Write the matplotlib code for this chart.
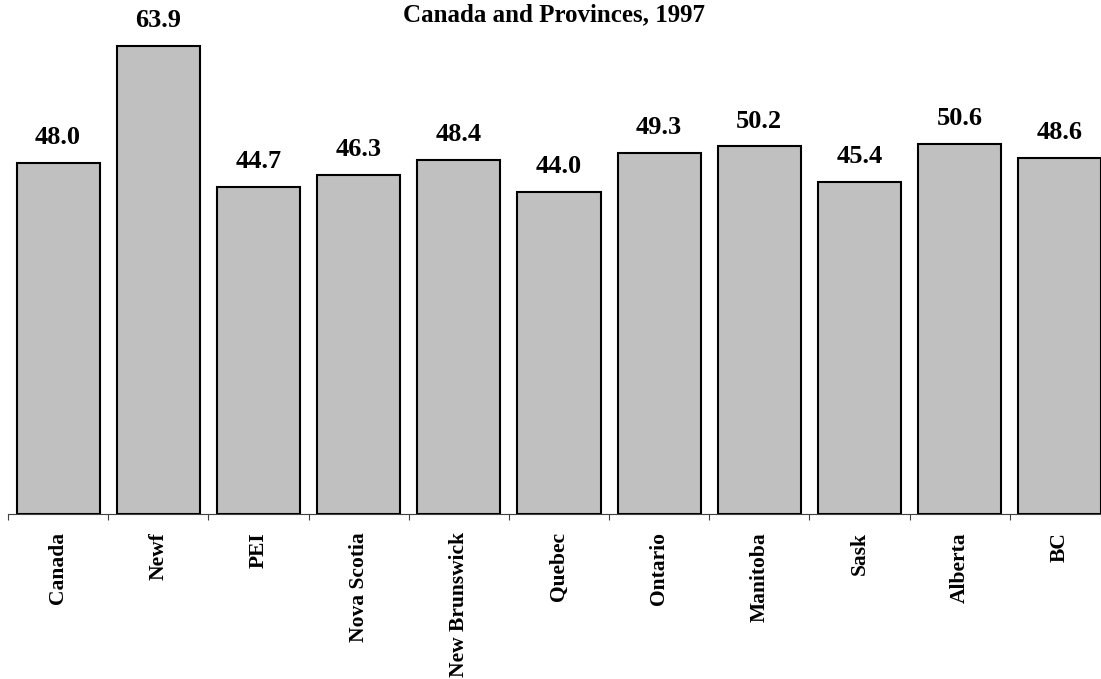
import matplotlib.pyplot as plt
import numpy as np

plt.rcParams['font.family'] = ['Liberation Serif', 'DejaVu Serif']

regions = ['Canada', 'Newf', 'PEI', 'Nova Scotia', 'New Brunswick', 'Quebec',
           'Ontario', 'Manitoba', 'Sask', 'Alberta', 'BC']
values = [48.0, 63.9, 44.7, 46.3, 48.4, 44.0, 49.3, 50.2, 45.4, 50.6, 48.6]

fig = plt.figure(figsize=(11.01, 6.79), dpi=100)
# axes spans a bit past the right edge, as in the original
ax = fig.add_axes([8 / 1101, 165 / 679, 1102 / 1101, 514 / 679])

x = np.arange(len(regions))
ax.bar(x, values, width=0.83, color='#c0c0c0', edgecolor='black', linewidth=1.5)

for xi, v in zip(x, values):
    ax.annotate(f'{v:.1f}', (xi, v), xytext=(0, 10), textcoords='offset points',
                ha='center', va='bottom', fontsize=19, fontweight='bold')

ax.set_xlim(-0.5, len(regions) - 0.5)
ax.set_ylim(0, 70.2)

ax.set_xticks(x)
ax.set_xticklabels(regions, rotation=90, fontsize=15.5, fontweight='bold')
ax.set_xticks(np.arange(len(regions) + 1) - 0.5, minor=True)
ax.tick_params(axis='x', which='major', length=0, pad=13)
ax.tick_params(axis='x', which='minor', length=4.5, width=0.8, color='#404040')
ax.set_yticks([])

for s in ['left', 'right', 'top']:
    ax.spines[s].set_visible(False)
ax.spines['bottom'].set_linewidth(0.8)
ax.spines['bottom'].set_color('#404040')

fig.text(554 / 1101, 1 - 15 / 679, 'Canada and Provinces, 1997', ha='center', va='center',
         fontsize=18, fontweight='bold')

fig.savefig('out.png', dpi=100)
